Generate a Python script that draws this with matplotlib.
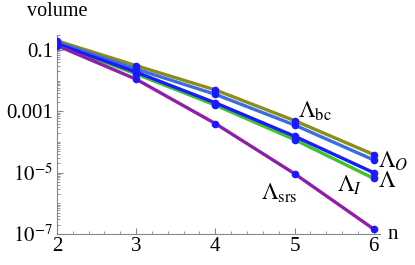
import numpy as np
import matplotlib
matplotlib.use("Agg")
from matplotlib import pyplot as plt
from matplotlib import ticker

plt.rcParams['font.family'] = ['Liberation Serif', 'DejaVu Serif']
plt.rcParams['mathtext.fontset'] = 'stix'

n = [2, 3, 4, 5, 6]

# volumes
vol_bc = [0.20, 0.031, 0.0050, 5.0e-4, 3.9e-5]
vol_O = [0.18, 0.024, 0.0036, 3.6e-4, 2.6e-5]
vol_L = [0.16, 0.019, 0.0019, 1.55e-4, 1.0e-5]
vol_I = [0.15, 0.0166, 0.0016, 1.2e-4, 6.5e-6]
vol_srs = [0.14, 0.0112, 0.0004, 9.3e-6, 1.45e-7]

series = [
    (vol_bc, '#8c8c1c'),
    (vol_O, '#3a6de0'),
    (vol_I, '#3cc42a'),
    (vol_L, '#1a1aff'),
    (vol_srs, '#8e1fa8'),
]

fig = plt.figure(figsize=(4.15, 2.65), dpi=100)
ax = fig.add_axes([0.1373, 0.117, 0.7784, 0.751])

for vals, col in series:
    ax.plot(n, vals, color=col, lw=2.4, solid_capstyle='butt', zorder=2)
for vals, col in series:
    ax.plot(n, vals, 'o', color='#1a1aff', ms=5.5, mec='none', zorder=3)

ax.set_yscale('log')
ax.set_xlim(2, 6.08)
ax.set_ylim(1e-7, 0.31)

ax.xaxis.set_major_locator(ticker.FixedLocator(n))
ax.xaxis.set_minor_locator(ticker.MultipleLocator(0.2))
ax.yaxis.set_major_locator(ticker.FixedLocator([1e-1, 1e-3, 1e-5, 1e-7]))
ax.yaxis.set_major_formatter(ticker.FixedFormatter(
    ['0.1', '0.001', r'$10^{-5}$', r'$10^{-7}$']))
minor = [m * 10.0 ** e for e in range(-7, 0) for m in range(1, 10)]
minor = [v for v in minor if v not in (1e-1, 1e-3, 1e-5, 1e-7)]
ax.yaxis.set_minor_locator(ticker.FixedLocator(minor))
ax.yaxis.set_minor_formatter(ticker.NullFormatter())

for s in ['top', 'right']:
    ax.spines[s].set_visible(False)
for s in ['left', 'bottom']:
    ax.spines[s].set_color('#888888')
    ax.spines[s].set_linewidth(0.8)
ax.tick_params(which='both', direction='in', color='#888888', labelsize=15, pad=3)
ax.tick_params(axis='x', pad=2)
ax.tick_params(which='major', length=4)
ax.tick_params(which='minor', length=2)

fig.text(0.065, 0.955, 'volume', fontsize=14.5, va='center', ha='left')
fig.text(0.935, 0.115, 'n', fontsize=15, va='center', ha='left')

ax.text(5.04, 1.0e-3, r'$\Lambda_{\rm bc}$', fontsize=17, va='center')
ax.text(6.05, 10 ** -4.62, r'$\Lambda_O$', fontsize=17, va='center')
ax.text(6.05, 10 ** -5.3, r'$\Lambda$', fontsize=17, va='center')
ax.text(5.54, 10 ** -5.4, r'$\Lambda_I$', fontsize=17, va='center')
ax.text(4.58, 10 ** -5.66, r'$\Lambda_{\rm srs}$', fontsize=17, va='center')

fig.savefig('out.png', dpi=100)
